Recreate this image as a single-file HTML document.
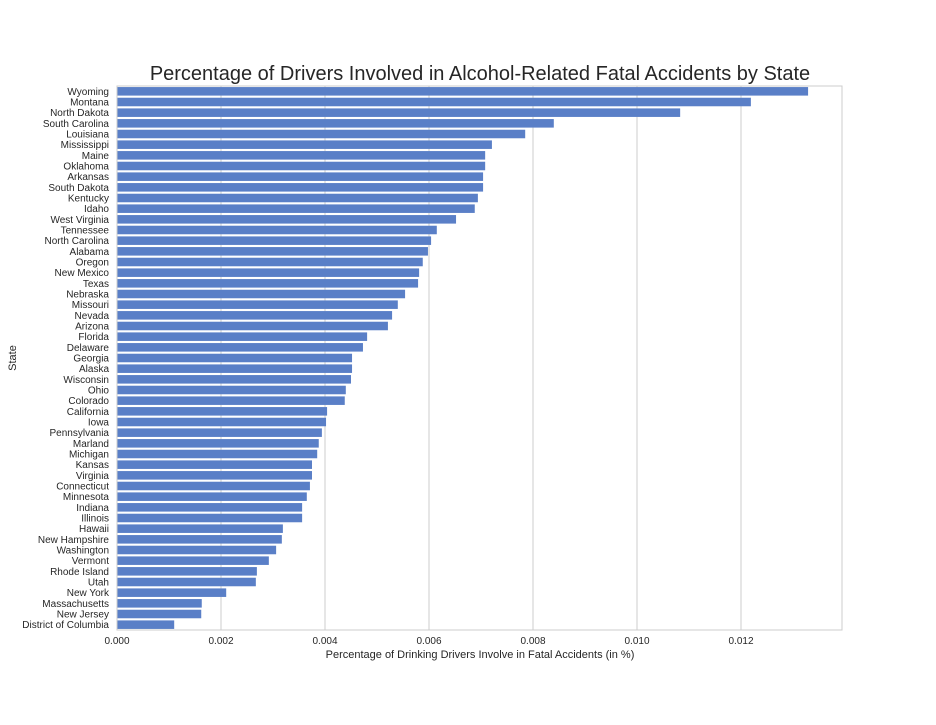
<!DOCTYPE html>
<html><head><meta charset="utf-8"><style>
body{margin:0;background:#fff;font-family:"Liberation Sans",sans-serif;}
</style></head><body>
<svg id="chart" width="936" height="720" xmlns="http://www.w3.org/2000/svg" font-family="Liberation Sans, sans-serif">
<text x="480" y="80" font-size="20" text-anchor="middle" fill="#262626">Percentage of Drivers Involved in Alcohol-Related Fatal Accidents by State</text>
<g id="grid"></g><g id="bars"></g><g id="labels"></g><g id="ticks"></g>
<rect x="117" y="86" width="725" height="544" fill="none" stroke="#ccc" stroke-width="1"/>
<text x="480" y="658" font-size="11" text-anchor="middle" fill="#262626">Percentage of Drinking Drivers Involve in Fatal Accidents (in %)</text>
<text x="16" y="358" font-size="11" text-anchor="middle" fill="#262626" transform="rotate(-90 16 358)">State</text>
</svg>
<script>
const states=["Wyoming","Montana","North Dakota","South Carolina","Louisiana","Mississippi","Maine","Oklahoma","Arkansas","South Dakota","Kentucky","Idaho","West Virginia","Tennessee","North Carolina","Alabama","Oregon","New Mexico","Texas","Nebraska","Missouri","Nevada","Arizona","Florida","Delaware","Georgia","Alaska","Wisconsin","Ohio","Colorado","California","Iowa","Pennsylvania","Marland","Michigan","Kansas","Virginia","Connecticut","Minnesota","Indiana ","Illinois","Hawaii","New Hampshire","Washington","Vermont","Rhode Island","Utah","New York","Massachusetts","New Jersey","District of Columbia"];
const values=[0.01329,0.01219,0.01083,0.00840,0.00785,0.00721,0.00708,0.00708,0.00704,0.00704,0.00694,0.00688,0.00652,0.00615,0.00604,0.00598,0.00588,0.00581,0.00579,0.00554,0.00540,0.00529,0.00521,0.00481,0.00473,0.00452,0.00452,0.00450,0.00440,0.00438,0.00404,0.00402,0.00394,0.00388,0.00385,0.00375,0.00375,0.00371,0.00365,0.00356,0.00356,0.00319,0.00317,0.00306,0.00292,0.00269,0.00267,0.00210,0.00163,0.00162,0.00110];
const xTicks=[0,0.002,0.004,0.006,0.008,0.010,0.012];
const xTickLabels=["0.000","0.002","0.004","0.006","0.008","0.010","0.012"];
const NS="http://www.w3.org/2000/svg";
const L=117,T=86,H=544,PX=52000;
const x=v=>L+v*PX;
const rowH=H/states.length;
const y=i=>T+i*rowH;
function mk(t,a){const e=document.createElementNS(NS,t);for(const k in a)e.setAttribute(k,a[k]);return e;}
const grid=document.getElementById('grid'),bars=document.getElementById('bars'),labels=document.getElementById('labels'),ticks=document.getElementById('ticks');
xTicks.forEach((t,i)=>{
 const g=mk('line',{x1:x(t),x2:x(t),y1:T,y2:T+H,stroke:'#ccc','stroke-width':1});
 
 
 grid.appendChild(g);
 const tx=mk('text',{x:x(t),y:T+H+14,'font-size':10,'text-anchor':'middle',fill:'#262626'});
 tx.textContent=xTickLabels[i];
 
 
 ticks.appendChild(tx);
});
states.forEach((s,i)=>{
 const r=mk('rect',{x:L,y:y(i)+rowH*0.1,width:x(values[i])-L,height:rowH*0.8,fill:'#5a7fc7'});
 
 
 bars.appendChild(r);
 const tx=mk('text',{x:L-8,y:y(i)+rowH/2+3.5,'font-size':10,'text-anchor':'end',fill:'#262626'});
 tx.textContent=s;
 
 
 labels.appendChild(tx);
});
</script>
</body></html>
